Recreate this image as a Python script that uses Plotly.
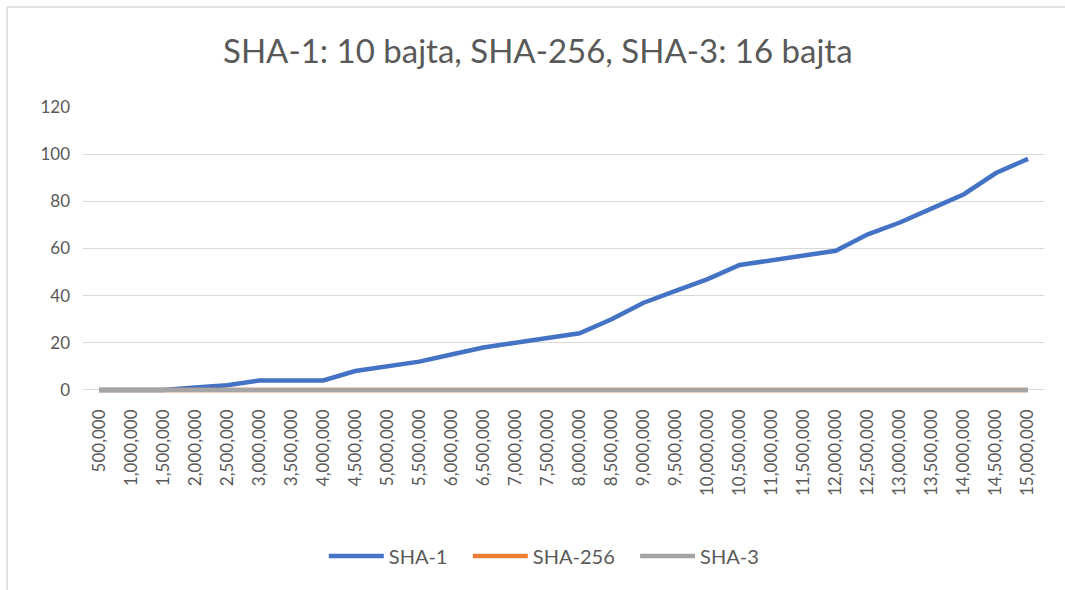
import plotly.graph_objects as go

categories = ["500,000", "1,000,000", "1,500,000", "2,000,000", "2,500,000", "3,000,000",
              "3,500,000", "4,000,000", "4,500,000", "5,000,000", "5,500,000", "6,000,000",
              "6,500,000", "7,000,000", "7,500,000", "8,000,000", "8,500,000", "9,000,000",
              "9,500,000", "10,000,000", "10,500,000", "11,000,000", "11,500,000", "12,000,000",
              "12,500,000", "13,000,000", "13,500,000", "14,000,000", "14,500,000", "15,000,000"]

sha1 = [0, 0, 0, 1, 2, 4, 4, 4, 8, 10, 12, 15, 18, 20, 22, 24, 30, 37, 42, 47,
        53, 55, 57, 59, 66, 71, 77, 83, 92, 98]
sha256 = [0, 0, 0, 0, 0, 0, 0, 0, 0, 0, 0, 0, 0, 0, 0, 0, 0, 0, 0, 0,
          0, 0, 0, 0, 0, 0, 0, 0, 0, 0]
sha3 = [0, 0, 0, 0, 0, 0, 0, 0, 0, 0, 0, 0, 0, 0, 0, 0, 0, 0, 0, 0,
        0, 0, 0, 0, 0, 0, 0, 0, 0, 0]

y_ticks = [0, 20, 40, 60, 80, 100, 120]

title_text = "SHA-1: 10 bajta, SHA-256, SHA-3: 16 bajta"
series_names = ["SHA-1", "SHA-256", "SHA-3"]

FONT = "Lato"
TXT = "#595959"
PAD = "\u00a0\u00a0\u00a0"

fig = go.Figure()
fig.add_trace(go.Scatter(x=categories, y=sha1, name=series_names[0] + PAD, mode="lines",
                         line=dict(color="#4472C4", width=4.5)))
fig.add_trace(go.Scatter(x=categories, y=sha256, name=series_names[1] + PAD, mode="lines",
                         line=dict(color="#ED7D31", width=4.5)))
fig.add_trace(go.Scatter(x=categories, y=sha3, name=series_names[2], mode="lines",
                         line=dict(color="#A5A5A5", width=4.5)))

L, R, T, B = 83, 21, 107, 193
W, H = 1065, 590
pw = W - L - R
ph = H - T - B
bx = (7 - L) / pw
by = (H - B - 7) / ph
rx = (W - L) / pw

fig.update_layout(
    width=W, height=H,
    margin=dict(l=L, r=R, t=T, b=B),
    paper_bgcolor="white", plot_bgcolor="white",
    font=dict(family=FONT, color=TXT, size=17),
    title=dict(text=title_text, x=0.505, xanchor="center", y=0.912, yanchor="middle",
               font=dict(family=FONT, size=33, color=TXT)),
    showlegend=True,
    legend=dict(orientation="h", x=0.48, xanchor="center", y=-0.548, yanchor="middle",
                font=dict(family=FONT, size=20, color=TXT), bgcolor="rgba(0,0,0,0)",
                itemwidth=55),
    xaxis=dict(type="category", range=[-0.5, 29.5], showgrid=False, zeroline=False,
               showline=False, ticks="", tickangle=-90, ticklabelstandoff=8,
               tickfont=dict(family=FONT, size=17, color=TXT)),
    yaxis=dict(range=[-3, 120], tickvals=y_ticks, showgrid=True, gridcolor="#D9D9D9",
               gridwidth=1.3, zeroline=False, showline=False, ticks="",
               tickfont=dict(family=FONT, size=17, color=TXT), ticklabelstandoff=12),
    shapes=[
        dict(type="line", xref="paper", yref="paper", x0=bx, x1=rx, y0=by, y1=by,
             line=dict(color="#D9D9D9", width=1.5)),
        dict(type="line", xref="paper", yref="paper", x0=bx, x1=bx, y0=by, y1=-B / ph,
             line=dict(color="#D9D9D9", width=1.5)),
    ],
)

fig.write_html(
    "out.html",
    config={"displayModeBar": False},
    post_script=("document.body.style.margin='0';"
                 "document.body.style.overflow='hidden';"
                 "document.documentElement.style.overflow='hidden';"),
)
